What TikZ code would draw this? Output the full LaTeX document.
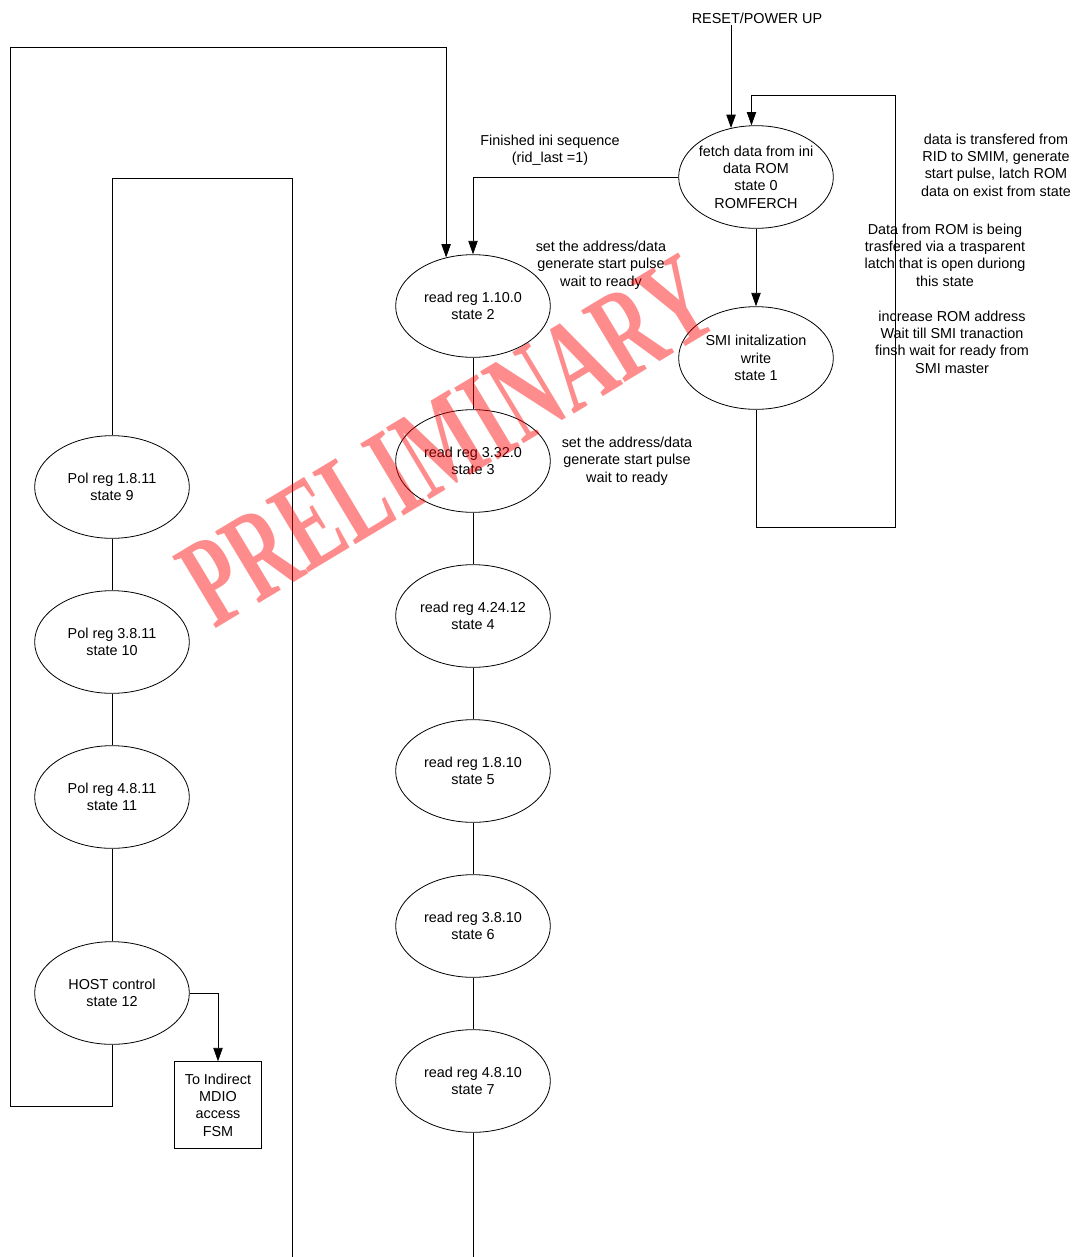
\documentclass[tikz,border=0pt]{standalone}
\usepackage{fontspec}
\setmainfont{Liberation Sans}
\newfontfamily\wmfont{Liberation Serif}
\usetikzlibrary{arrows.meta,shapes.geometric}
\begin{document}
\begin{tikzpicture}[x=0.75pt, y=-0.75pt, line width=0.6pt]
        \tikzstyle{state}=[draw, ellipse, fill=white, align=center,
            minimum width=116pt, minimum height=77pt, inner sep=0pt,
            font=\fontsize{10.8}{13}\selectfont]
        \tikzstyle{note}=[align=center, inner sep=1pt,
            font=\fontsize{10.8}{13}\selectfont]
        \tikzstyle{arr}=[-{Triangle[length=10pt, width=7pt]}]
        \useasboundingbox (0,0) rectangle (1082,1257);

        \node[note] (reset) at (757,18) {RESET/POWER UP};
        \node[state, inner xsep=-7pt] (s0) at (756,177) {fetch data from ini\\data ROM\\state 0\\ROMFERCH};
        \node[state] (s1) at (756,358) {SMI initalization\\write\\state 1};
        \node[state] (s2) at (473,306) {read reg 1.10.0\\state 2};
        \node[state] (s3) at (473,461) {read reg 3.32.0\\state 3};
        \node[state] (s4) at (473,616) {read reg 4.24.12\\state 4};
        \node[state] (s5) at (473,771) {read reg 1.8.10\\state 5};
        \node[state] (s6) at (473,926) {read reg 3.8.10\\state 6};
        \node[state] (s7) at (473,1081) {read reg 4.8.10\\state 7};
        \node[state] (s9) at (112,487) {Pol reg 1.8.11\\state 9};
        \node[state] (s10) at (112,642) {Pol reg 3.8.11\\state 10};
        \node[state] (s11) at (112,797) {Pol reg 4.8.11\\state 11};
        \node[state] (s12) at (112,993) {HOST control\\state 12};
        \node[draw, rectangle, align=center, minimum width=65pt, minimum height=65pt,
            inner sep=0pt, font=\fontsize{10.8}{13}\selectfont] (fsm) at (218,1105)
            {To Indirect\\MDIO\\access\\FSM};
        \coordinate (out7) at (473,1257);
        \coordinate (out9) at (292,1257);

        \node[note] (fin) at (550,150) {Finished ini sequence\\(rid\_last =1)};
        \node[note] (addr2) at (601,265) {set the address/data\\generate start pulse\\wait to ready};
        \node[note] (addr3) at (627,461) {set the address/data\\generate start pulse\\wait to ready};
        \node[note] (rid) at (996,165) {data is transfered from\\RID to SMIM, generate\\start pulse, latch ROM\\data on exist from state};
        \node[note] (latch) at (945,255) {Data from ROM is being\\trasfered via a trasparent\\latch that is open duriong\\this state};
        \node[note] (incr) at (952,342) {increase ROM address\\Wait till SMI tranaction\\finsh wait for ready from\\SMI master};

        \draw[arr] (s0.117 |- reset.south) -- (s0.117);
        \draw[arr] (s0.south) -- (s1.north);
        \draw[arr] (s1.south) |- (895,527) -- (895,95) -| (s0.95);
        \draw[arr] (s0.west) -| (s2.north);
        \draw[arr] (s12.south) |- (10,1106) -- (10,47) -| (s2.119);
        \draw (s2) -- (s3);
        \draw (s3) -- (s4);
        \draw (s4) -- (s5);
        \draw (s5) -- (s6);
        \draw (s6) -- (s7);
        \draw (s7) -- (out7);
        \draw (s9.north) |- (292,178) -- (out9);
        \draw (s9) -- (s10);
        \draw (s10) -- (s11);
        \draw (s11) -- (s12);
        \draw[arr] (s12.east) -| (fsm.north);

        \node[anchor=base west, rotate=31, inner sep=0pt, text=red, opacity=0.45,
            font=\wmfont\bfseries\fontsize{96}{96}\selectfont] (wm) at (214,630)
            {\scalebox{0.64}[1]{PRELIMINARY}};
    \end{tikzpicture}
\end{document}
